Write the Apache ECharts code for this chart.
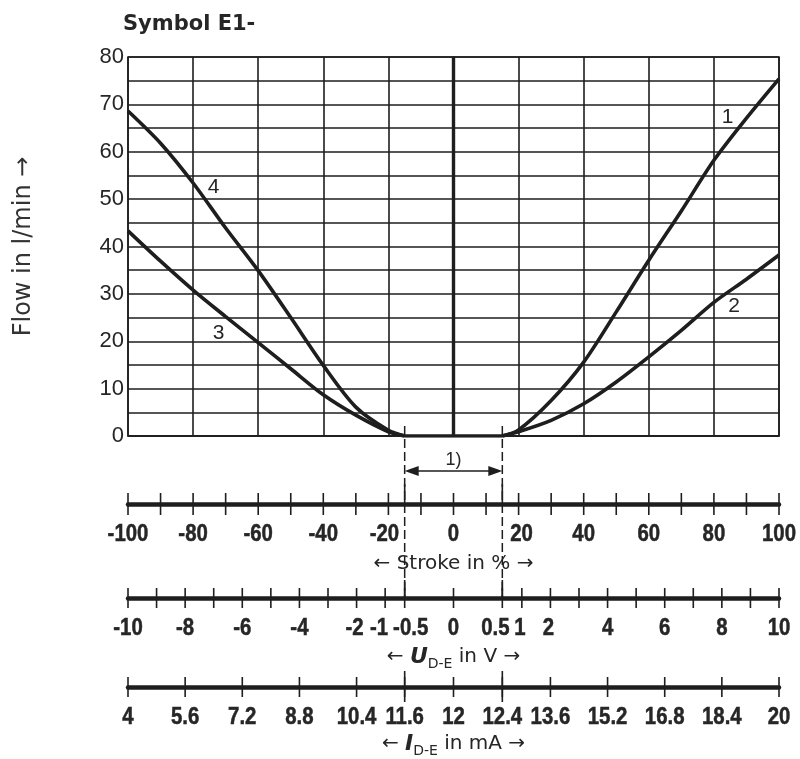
<!DOCTYPE html>
<html>
<head>
<meta charset="utf-8">
<script src="https://cdn.jsdelivr.net/npm/echarts@6/dist/echarts.min.js"></script>
<style>
  html, body { margin: 0; padding: 0; background: #fff; }
  #chart { width: 800px; height: 759px; }
</style>
</head>
<body>
<div id="chart"></div>
<script>
// Flow characteristic curves: [stroke in %, flow in l/min]
const curve1 = [[15, 0], [20, 1.3], [30, 7.5], [40, 15.6], [50, 26.2], [60, 37.1], [70, 47.5], [80, 58.2], [90, 67.1], [100, 75.4]];
const curve2 = [[15, 0], [20, 0.9], [30, 3.3], [40, 6.8], [50, 11.4], [60, 16.7], [70, 22.3], [80, 28.2], [90, 33.1], [100, 38.2]];
const curve3 = [[-100, 43.3], [-90, 36.9], [-80, 30.8], [-70, 25.2], [-60, 19.7], [-50, 14.2], [-40, 8.7], [-30, 4.4], [-20, 0.9], [-15, 0]];
const curve4 = [[-100, 68.6], [-90, 61.8], [-80, 53.4], [-70, 43.9], [-60, 34.9], [-50, 25.0], [-40, 14.9], [-30, 6.1], [-20, 1.2], [-15, 0]];
// Spool overlap: no flow between these strokes
const overlapBand = [[-15, 0], [15, 0]];

// Stroke scale
const strokeTicks = [-100, -90, -80, -70, -60, -50, -40, -30, -20, -10, 0, 10, 20, 30, 40, 50, 60, 70, 80, 90, 100];
const strokeLabels = [-100, -80, -60, -40, -20, 0, 20, 40, 60, 80, 100];
// Command voltage scale U(D-E) in V
const voltageTicks = [-10, -9, -8, -7, -6, -5, -4, -3, -2, -1, -0.5, 0, 0.5, 1, 2, 3, 4, 5, 6, 7, 8, 9, 10];
const voltageLabels = [-10, -8, -6, -4, -2, -1, -0.5, 0, 0.5, 1, 2, 4, 6, 8, 10];
// Command current scale I(D-E) in mA
const currentTicks = [4, 5.6, 7.2, 8.8, 10.4, 11.6, 12, 12.4, 13.6, 15.2, 16.8, 18.4, 20];
// Voltage -> stroke calibration points (piecewise linear, symmetric)
const calibVolt = [0, 0.5, 1, 10];
const calibStroke = [0, 15, 21, 100];

function voltToStroke(u) {
  const a = Math.abs(u), s = Math.sign(u);
  for (let i = 1; i < calibVolt.length; i++) {
    if (a <= calibVolt[i]) {
      const t = (a - calibVolt[i - 1]) / (calibVolt[i] - calibVolt[i - 1]);
      return s * (calibStroke[i - 1] + t * (calibStroke[i] - calibStroke[i - 1]));
    }
  }
  return s * calibStroke[calibStroke.length - 1];
}
// 4..20 mA corresponds to -10..+10 V
function currentToVolt(i) { return (i - 12) / 0.8; }
function currentToStroke(i) { return voltToStroke(currentToVolt(i)); }

const INK = '#1e1e1e';
const TEXT = '#262626';
const SANS = "'Liberation Sans', Arial, sans-serif";
const WIDE = "'DejaVu Sans', sans-serif";

// Layout (pixels)
const PLOT_LEFT = 128, PLOT_RIGHT = 21, PLOT_TOP = 57, PLOT_H = 379;
const PLOT_BOTTOM = PLOT_TOP + PLOT_H;
const STROKE_Y = 504, VOLT_Y = 598, CURR_Y = 692;
const SCALE_HALF = 11;
const LABEL_DROP = 30;      // scale label centre below the scale line
const LABEL_SQUEEZE = 0.85; // condensed figures

// Horizontal nudges for crowded scale labels (pixels)
const nudgeStroke = { '-20': -4, '20': 3 };
const nudgeVolt = { '-2': -2, '-1': -6, '-0.5': 6, '0.5': -7, '1': -2, '2': -2 };
const nudgeCurrent = {};

function scaleGrid(y) {
  return { left: PLOT_LEFT, right: PLOT_RIGHT, top: y - SCALE_HALF, height: 2 * SCALE_HALF };
}
function scaleXAxis(gridIndex, name, nameGap) {
  return {
    type: 'value', gridIndex, min: -100, max: 100,
    axisLine: { show: true, onZero: true, lineStyle: { color: INK, width: 4.5 } },
    axisTick: { show: false },
    axisLabel: { show: false },
    splitLine: { show: false },
    name, nameLocation: 'middle', nameGap,
    nameTextStyle: { fontFamily: WIDE, fontSize: 20, color: TEXT, rich: nameRich }
  };
}
function scaleYAxis(gridIndex) {
  return { type: 'value', gridIndex, min: -1, max: 1, show: false };
}
function tickSeries(gridIndex, positions, up, down) {
  return {
    type: 'custom', xAxisIndex: gridIndex, yAxisIndex: gridIndex, silent: true, clip: false,
    data: positions.map(p => [p, 0]),
    renderItem(params, api) {
      const p = api.coord([api.value(0), 0]);
      return {
        type: 'line',
        shape: { x1: p[0], y1: p[1] - up, x2: p[0], y2: p[1] + down },
        style: { stroke: INK, lineWidth: 1.6 }
      };
    }
  };
}
// Scale figures placed at their tick values
function labelSeries(gridIndex, values, toStroke, nudges) {
  return {
    type: 'custom', xAxisIndex: gridIndex, yAxisIndex: gridIndex, silent: true, clip: false,
    data: values.map(v => [toStroke(v), 0]),
    renderItem(params, api) {
      const p = api.coord([api.value(0), 0]);
      const text = String(values[params.dataIndex]);
      const dx = nudges[text] || 0;
      return {
        type: 'text', x: p[0] + dx, y: p[1] + LABEL_DROP, scaleX: LABEL_SQUEEZE,
        style: {
          text, fontFamily: SANS, fontWeight: 'bold', fontSize: 24, fill: TEXT,
          stroke: TEXT, lineWidth: 0.5, align: 'center', verticalAlign: 'middle'
        }
      };
    }
  };
}

// rich styles for axis names: arrows, bold-italic symbol, subscript
const nameRich = {
  t: { fontFamily: WIDE, fontSize: 20, color: TEXT, lineHeight: 28, verticalAlign: 'middle' },
  b: { fontFamily: WIDE, fontSize: 22, fontWeight: 'bold', fontStyle: 'italic', color: TEXT, lineHeight: 28, verticalAlign: 'middle' },
  s: { fontFamily: WIDE, fontSize: 14, color: TEXT, lineHeight: 28, verticalAlign: 'bottom' }
};

function curveSeries(name, data, tagCoord) {
  return {
    type: 'line', name, data, smooth: 0.3, showSymbol: false, silent: true,
    lineStyle: { color: INK, width: 3.6 }, itemStyle: { color: INK },
    markPoint: {
      symbol: 'circle', symbolSize: 0, silent: true,
      label: { show: true, formatter: name, fontFamily: SANS, fontSize: 21, color: TEXT, position: 'inside' },
      data: [{ coord: tagCoord }]
    }
  };
}

const option = {
  animation: false,
  backgroundColor: '#fff',
  title: {
    text: 'Symbol E1-', left: 118, top: 9,
    textStyle: { fontFamily: WIDE, fontWeight: 'bold', fontSize: 21, color: TEXT }
  },
  grid: [
    { left: PLOT_LEFT, right: PLOT_RIGHT, top: PLOT_TOP, height: PLOT_H, show: true, borderColor: INK, borderWidth: 1.6 },
    scaleGrid(STROKE_Y),
    scaleGrid(VOLT_Y),
    scaleGrid(CURR_Y)
  ],
  xAxis: [
    {
      type: 'value', gridIndex: 0, min: -100, max: 100, interval: 20,
      axisLine: { show: true, onZero: false, lineStyle: { color: INK, width: 1.6 } },
      axisTick: { show: false }, axisLabel: { show: false },
      splitLine: { show: true, lineStyle: { color: INK, width: 1.6 } }
    },
    scaleXAxis(1, '{t|← Stroke in % →}', 35),
    scaleXAxis(2, '{t|← }{b|U}{s|D-E}{t| in V →}', 34),
    scaleXAxis(3, '{t|← }{b|I}{s|D-E}{t| in mA →}', 37)
  ],
  yAxis: [
    {
      type: 'value', gridIndex: 0, min: 0, max: 80, interval: 5,
      axisLine: { show: true, lineStyle: { color: INK, width: 1.6 } },
      axisTick: { show: false },
      axisLabel: {
        formatter: v => (v % 10 === 0 ? String(v) : ''),
        fontFamily: SANS, fontSize: 22, color: TEXT, margin: 4
      },
      splitLine: { show: true, lineStyle: { color: INK, width: 1.6 } },
      name: 'Flow in l/min →', nameLocation: 'middle', nameGap: 92, nameRotate: 90,
      nameTextStyle: { fontFamily: WIDE, fontSize: 24, color: '#333' }
    },
    scaleYAxis(1), scaleYAxis(2), scaleYAxis(3)
  ],
  series: [
    // zero-flow segment across the overlap and the neutral line
    {
      type: 'line', data: overlapBand, showSymbol: false, silent: true,
      lineStyle: { color: INK, width: 3.6 },
      markLine: {
        silent: true, symbol: 'none', label: { show: false },
        lineStyle: { color: INK, width: 3.4, type: 'solid' },
        data: [{ xAxis: 0 }]
      }
    },
    curveSeries('1', curve1, [84.2, 67.2]),
    curveSeries('2', curve2, [86.2, 27.5]),
    curveSeries('3', curve3, [-72.2, 21.8]),
    curveSeries('4', curve4, [-73.7, 52.6]),
    // dashed overlap boundaries running down to the voltage scale
    {
      type: 'custom', xAxisIndex: 0, yAxisIndex: 0, silent: true, clip: false,
      data: overlapBand.map(p => [p[0], p[1]]),
      renderItem(params, api) {
        const p = api.coord([api.value(0), 0]);
        return {
          type: 'line',
          shape: { x1: p[0], y1: p[1] - 10, x2: p[0], y2: p[1] + (VOLT_Y - PLOT_BOTTOM) },
          style: { stroke: INK, lineWidth: 1.5, lineDash: [9, 4] }
        };
      }
    },
    // overlap dimension arrow "1)"
    {
      type: 'custom', xAxisIndex: 0, yAxisIndex: 0, silent: true, clip: false,
      data: [[overlapBand[0][0], overlapBand[1][0]]],
      renderItem(params, api) {
        const a = api.coord([api.value(0), 0]);
        const b = api.coord([api.value(1), 0]);
        const y = a[1] + 35;
        const L = 14, W = 5;
        return {
          type: 'group',
          children: [
            { type: 'line', shape: { x1: a[0] + 4, y1: y, x2: b[0] - 4, y2: y }, style: { stroke: INK, lineWidth: 1.6 } },
            { type: 'polygon', shape: { points: [[a[0], y], [a[0] + L, y - W], [a[0] + L, y + W]] }, style: { fill: INK } },
            { type: 'polygon', shape: { points: [[b[0], y], [b[0] - L, y - W], [b[0] - L, y + W]] }, style: { fill: INK } },
            {
              type: 'text', x: (a[0] + b[0]) / 2, y: y - 11,
              style: { text: '1)', fontFamily: SANS, fontSize: 18, fill: TEXT, align: 'center', verticalAlign: 'middle' }
            }
          ]
        };
      }
    },
    // stroke scale
    tickSeries(1, strokeTicks, 11, 11),
    tickSeries(1, overlapBand.map(p => p[0]), 20, 0),
    labelSeries(1, strokeLabels, x => x, nudgeStroke),
    // voltage scale
    tickSeries(2, voltageTicks.map(voltToStroke), 10, 10),
    tickSeries(2, [-0.5, 0.5].map(voltToStroke), 18, 0),
    labelSeries(2, voltageLabels, voltToStroke, nudgeVolt),
    // current scale
    tickSeries(3, currentTicks.map(currentToStroke), 10, 10),
    tickSeries(3, [11.6, 12.4].map(currentToStroke), 16, 15),
    labelSeries(3, currentTicks, currentToStroke, nudgeCurrent)
  ]
};

const chart = echarts.init(document.getElementById('chart'), null, { renderer: 'canvas' });
chart.setOption(option);
</script>
</body>
</html>
